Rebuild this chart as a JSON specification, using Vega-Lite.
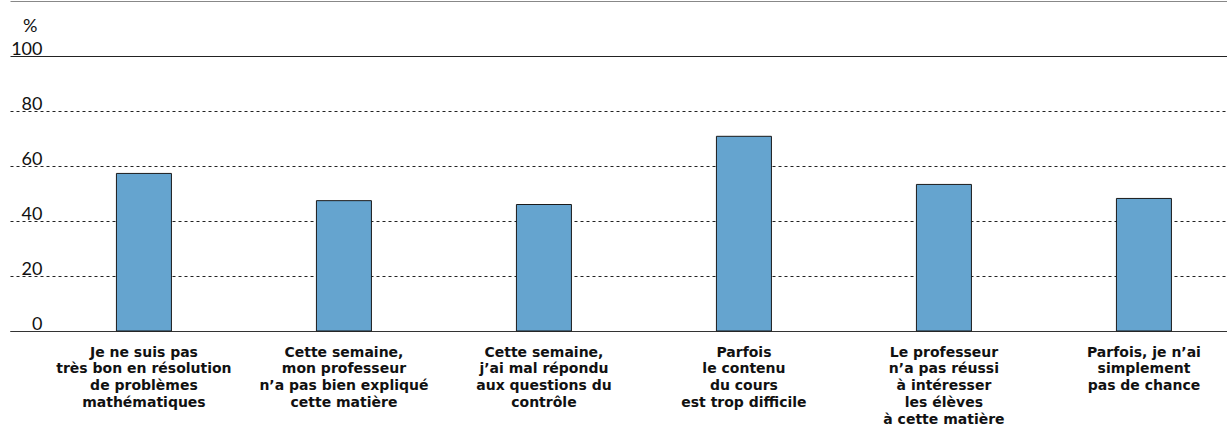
{
  "$schema": "https://vega.github.io/schema/vega-lite/v6.json",
  "width": 1217,
  "height": 330,
  "autosize": {"type": "none"},
  "padding": {"left": 10, "top": 1, "right": 0, "bottom": 108},
  "background": "white",
  "config": {
    "view": {"stroke": null},
    "font": "Lato"
  },
  "data": {
    "values": [
      {"cause": "Je ne suis pas\ntrès bon en résolution\nde problèmes\nmathématiques", "pct": 57.3},
      {"cause": "Cette semaine,\nmon professeur\nn’a pas bien expliqué\ncette matière", "pct": 47.4},
      {"cause": "Cette semaine,\nj’ai mal répondu\naux questions du\ncontrôle", "pct": 46.0},
      {"cause": "Parfois\nle contenu\ndu cours\nest trop difficile", "pct": 70.8},
      {"cause": "Le professeur\nn’a pas réussi\nà intéresser\nles élèves\nà cette matière", "pct": 53.3},
      {"cause": "Parfois, je n’ai\nsimplement\npas de chance", "pct": 48.2}
    ]
  },
  "mark": {"type": "bar", "color": "#65a4cf", "stroke": "#1a1a1a", "strokeWidth": 1},
  "encoding": {
    "x": {
      "field": "cause",
      "type": "nominal",
      "sort": null,
      "scale": {"paddingInner": 0.725, "paddingOuter": 0.405, "align": 0.657},
      "axis": {
        "title": null,
        "labelAngle": 0,
        "labelExpr": "split(datum.value, '\\n')",
        "labelFont": "DejaVu Sans",
        "labelFontWeight": "bold",
        "labelFontSize": 14,
        "labelLineHeight": 16.8,
        "labelColor": "#111",
        "labelPadding": 25,
        "labelBaseline": "alphabetic",
        "ticks": false,
        "domainColor": "#333",
        "domainWidth": 1,
        "labelLimit": 300
      }
    },
    "y": {
      "field": "pct",
      "type": "quantitative",
      "scale": {"domain": [0, 120], "nice": false},
      "axis": {
        "title": "%",
        "titleAngle": 0,
        "titleAlign": "right",
        "titleBaseline": "alphabetic",
        "titleX": 27,
        "titleY": 30,
        "titleFont": "Lato",
        "titleFontWeight": "normal",
        "titleFontSize": 18,
        "titleColor": "#111",
        "values": [0, 20, 40, 60, 80, 100, 120],
        "labelExpr": "datum.value == 120 ? '' : datum.label",
        "labelFont": "Lato",
        "labelFontSize": 18,
        "labelColor": "#111",
        "labelAlign": "right",
        "labelBaseline": "alphabetic",
        "labelOffset": -2,
        "labelPadding": -32,
        "ticks": false,
        "domain": false,
        "grid": true,
        "gridColor": {"condition": {"test": "datum.value == 120", "value": "#888888"}, "value": "#222222"},
        "gridDash": {"condition": {"test": "datum.value >= 100", "value": []}, "value": [3, 3]},
        "gridWidth": 1
      }
    }
  }
}
